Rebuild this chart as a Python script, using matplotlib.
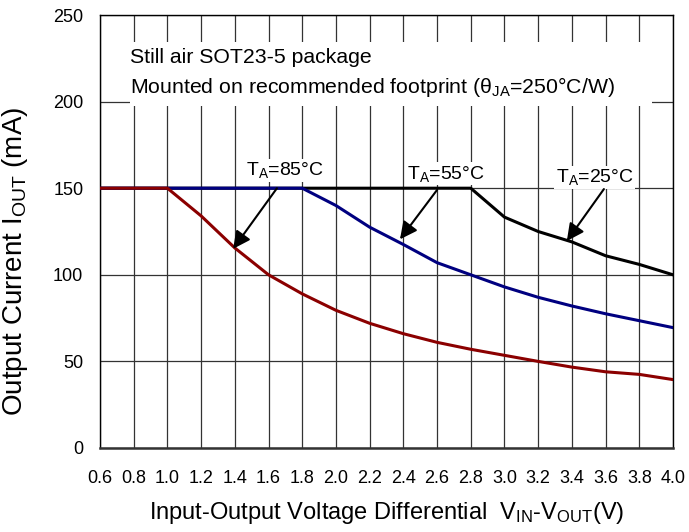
import matplotlib
matplotlib.use("Agg")
import matplotlib.pyplot as plt
from matplotlib.patches import Rectangle

plt.rcParams['font.family'] = ['Liberation Sans', 'DejaVu Sans']
plt.rcParams['mathtext.fontset'] = 'custom'
plt.rcParams['mathtext.rm'] = 'Liberation Sans'
plt.rcParams['mathtext.it'] = 'Liberation Sans'

# dropout voltage (V) vs max output current (mA) at three ambient temps
vdiff = [0.6, 0.8, 1.0, 1.2, 1.4, 1.6, 1.8, 2.0, 2.2, 2.4, 2.6, 2.8,
         3.0, 3.2, 3.4, 3.6, 3.8, 4.0]
iout_25 = [150, 150, 150, 150, 150, 150, 150, 150, 150, 150, 150, 150,
           133.3, 125, 119, 111, 106, 100]
iout_55 = [150, 150, 150, 150, 150, 150, 150, 140, 127.5, 117.5, 107, 100,
           93, 87, 82, 77.5, 73.5, 69.5]
iout_85 = [150, 150, 150, 134, 115.5, 100, 89, 79.5, 72, 66, 61, 57,
           53.5, 50, 46.7, 44, 42.5, 39.5]

xticks = vdiff
yticks = [0, 50, 100, 150, 200, 250]

fig = plt.figure(figsize=(6.89, 5.32), dpi=100)
ax = fig.add_axes([100 / 689, 84 / 532, 573 / 689, 433 / 532])

ax.plot(vdiff, iout_25, color='black', lw=2.2, zorder=3)
ax.plot(vdiff, iout_55, color='#000080', lw=2.2, zorder=4)
ax.plot(vdiff, iout_85, color='#8B0000', lw=2.2, zorder=5)

ax.set_xlim(0.6, 4.0)
ax.set_ylim(0, 250)
ax.set_xticks(xticks)
ax.set_xticklabels(['%.1f' % v for v in xticks])
ax.set_yticks(yticks)
ax.tick_params(axis='both', length=0, labelsize=13)
ax.tick_params(axis='y', pad=12)
ax.tick_params(axis='x', pad=16)
ax.grid(True, color='#333333', lw=0.9, zorder=1)
ax.set_axisbelow(True)

for s in ['left', 'top', 'right']:
    ax.spines[s].set_color('black')
    ax.spines[s].set_linewidth(1.0)
ax.spines['bottom'].set_color('#333333')
ax.spines['bottom'].set_linewidth(1.8)

ax.set_ylabel('Output Current I$_{\\mathrm{OUT}}$ (mA)', fontsize=20)
ax.yaxis.set_label_coords(-0.122, 0.432)
ax.set_xlabel('Input-Output Voltage Differential  V$_{\\mathrm{IN}}$-V$_{\\mathrm{OUT}}$(V)',
              fontsize=17, labelpad=9)

# white panel behind the package note
ax.add_patch(Rectangle((0.778, 197.3), 3.098, 37.0, facecolor='white',
                       edgecolor='none', zorder=2))
ax.text(0.78, 222.2, 'Still air SOT23-5 package', fontsize=15.3,
        va='baseline', ha='left', zorder=6)
ax.text(0.78, 204.8,
        'Mounted on recommended footprint (θ$_{\\mathrm{JA}}$=250°C/W)',
        fontsize=15.3, va='baseline', ha='left', zorder=6)

# curve labels with arrows
labels = [('T$_{\\mathrm{A}}$=85°C', 1.70, 157.5, (1.65, 150), (1.39, 115)),
          ('T$_{\\mathrm{A}}$=55°C', 2.65, 155.6, (2.60, 149), (2.38, 120.5)),
          ('T$_{\\mathrm{A}}$=25°C', 3.535, 153.3, (3.59, 149.5), (3.37, 119.5))]
for txt, tx, ty, tail, tip in labels:
    ax.text(tx, ty, txt, fontsize=14, ha='center', va='baseline', zorder=6,
            bbox=dict(facecolor='white', edgecolor='none', pad=1))
    ax.annotate('', xy=tip, xytext=tail, zorder=7,
                arrowprops=dict(arrowstyle='-|>', color='black', lw=1.5,
                                mutation_scale=26, shrinkA=0, shrinkB=0))

fig.savefig('out.png', dpi=100)
